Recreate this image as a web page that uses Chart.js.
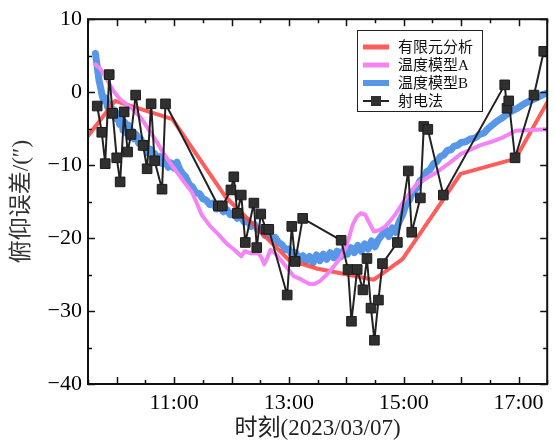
<!DOCTYPE html>
<html>
<head>
<meta charset="utf-8">
<script src="https://cdn.jsdelivr.net/npm/chart.js@4.4.0/dist/chart.umd.min.js"></script>
<style>
  html, body { margin: 0; padding: 0; background: #fff; }
</style>
</head>
<body>
<canvas id="grafik" width="555" height="444"></canvas>
<script>
// Zaman ekseni: saat (ondalik), ör. 10.5 = 10:30
const xEtiketSaatleri = [11, 13, 15, 17];
const xEtiketleri = ['11:00', '13:00', '15:00', '17:00'];
const yEtiketDegerleri = [-40, -30, -20, -10, 0, 10];

// 有限元分析
const feaX = [9.50, 9.97, 10.97, 11.89, 13.00, 13.50, 14.48, 14.98, 15.70, 15.99, 16.95, 17.50];
const feaY = [-6.0, -1.2, -3.7, -14.3, -23.0, -24.2, -25.7, -22.9, -14.6, -11.2, -9.1, -1.4];

// 温度模型A
const modelAX = [9.63, 9.70, 9.77, 9.86, 9.95, 10.06, 10.18, 10.29, 10.43, 10.57, 10.69, 10.80, 10.94, 11.09,
  11.20, 11.31, 11.40, 11.48, 11.62, 11.77, 11.92, 12.05, 12.17, 12.23, 12.34, 12.45, 12.52, 12.57, 12.63,
  12.68, 12.76, 12.85, 12.96, 13.08, 13.22, 13.36, 13.45, 13.54, 13.65, 13.76, 13.88, 13.99, 14.06, 14.11,
  14.18, 14.25, 14.33, 14.40, 14.48, 14.58, 14.68, 14.77, 14.85, 15.04, 15.24, 15.42, 15.59, 15.80, 15.99,
  16.16, 16.33, 16.53, 16.73, 16.95, 17.20, 17.50];
const modelAY = [3.8, 3.3, 2.6, 1.3, 0.1, -1.0, -1.7, -2.4, -3.6, -5.3, -6.7, -8.2, -9.8, -11.4,
  -12.6, -13.7, -15.3, -16.8, -18.3, -19.5, -20.8, -21.6, -22.5, -21.8, -22.1, -22.0, -22.6, -23.6, -22.6,
  -21.6, -22.1, -22.9, -24.0, -25.2, -25.7, -26.3, -26.3, -25.9, -25.1, -24.1, -22.9, -21.4, -19.6, -18.2,
  -17.1, -16.6, -16.8, -17.9, -19.1, -18.9, -18.4, -17.6, -16.8, -14.5, -12.5, -11.7, -10.9, -9.7, -8.5,
  -7.9, -7.3, -6.8, -6.2, -5.3, -5.2, -5.1];

// 温度模型B
const modelBX = [9.63, 9.66, 9.69, 9.72, 9.75, 9.78, 9.81, 9.84, 9.88, 9.91, 9.95, 9.98, 10.01, 10.05,
  10.08, 10.11, 10.14, 10.17, 10.20, 10.24, 10.27, 10.30, 10.34, 10.38, 10.42, 10.46, 10.50, 10.54, 10.58,
  10.62, 10.66, 10.70, 10.75, 10.80, 10.85, 10.90, 10.95, 11.00, 11.05, 11.10, 11.15, 11.20, 11.26, 11.32,
  11.38, 11.44, 11.50, 11.56, 11.62, 11.68, 11.74, 11.80, 11.86, 11.92, 11.98, 12.04, 12.10, 12.16, 12.22,
  12.28, 12.34, 12.40, 12.46, 12.52, 12.58, 12.64, 12.70, 12.76, 12.82, 12.88, 12.94, 13.00, 13.06, 13.12,
  13.18, 13.24, 13.30, 13.36, 13.42, 13.48, 13.54, 13.60, 13.66, 13.72, 13.78, 13.84, 13.90, 13.96, 14.02,
  14.08, 14.14, 14.20, 14.26, 14.32, 14.38, 14.44, 14.50, 14.56, 14.62, 14.68, 14.74, 14.80, 14.86, 14.92,
  14.98, 15.04, 15.10, 15.16, 15.22, 15.28, 15.34, 15.40, 15.46, 15.52, 15.58, 15.64, 15.70, 15.76, 15.82,
  15.88, 15.94, 16.00, 16.08, 16.16, 16.24, 16.32, 16.40, 16.48, 16.56, 16.64, 16.72, 16.80, 16.88, 16.96,
  17.04, 17.12, 17.20, 17.28, 17.36, 17.44, 17.50];
const modelBY = [5.3, 3.5, 1.7, 0.6, -0.6, -1.2, -0.8, -2.0, -1.6, -2.8, -2.4, -3.6, -2.9, -4.4,
  -3.6, -5.2, -4.1, -5.6, -4.5, -6.2, -5.3, -6.4, -5.8, -7.0, -6.4, -7.6, -7.0, -8.3, -7.8,
  -8.9, -8.4, -9.3, -8.8, -9.8, -9.4, -10.3, -9.7, -10.4, -9.6, -10.6, -11.2, -11.6, -12.6, -13.0,
  -13.8, -13.9, -14.6, -14.8, -15.4, -15.2, -16.0, -15.7, -16.4, -16.1, -16.8, -16.6, -17.3, -17.0, -17.8,
  -17.6, -18.4, -18.1, -18.9, -18.8, -19.6, -19.3, -20.1, -19.9, -20.6, -20.9, -21.6, -21.5, -22.4, -22.0,
  -23.0, -22.4, -23.2, -22.5, -23.4, -22.3, -23.1, -22.2, -22.9, -22.0, -22.7, -21.8, -22.6, -21.6, -22.2,
  -21.3, -22.0, -21.0, -21.8, -20.8, -21.5, -20.4, -21.2, -20.2, -19.6, -18.8, -19.8, -18.6, -19.2, -17.8,
  -16.8, -15.4, -14.8, -13.6, -13.2, -12.2, -11.8, -10.9, -10.6, -9.8, -9.5, -8.8, -8.6, -8.0, -7.9,
  -7.4, -7.3, -6.9, -6.8, -6.4, -6.3, -5.8, -5.6, -4.9, -4.4, -3.9, -3.5, -3.0, -2.6, -2.3,
  -1.9, -1.5, -1.2, -0.9, -0.6, -0.3, -0.1];

// 射电法
const radioX = [9.66, 9.74, 9.80, 9.87, 9.93, 10.00, 10.06, 10.13, 10.19, 10.25, 10.33, 10.46, 10.53, 10.60,
  10.66, 10.79, 10.85, 11.77, 11.84, 11.99, 12.04, 12.10, 12.17, 12.24, 12.39, 12.44, 12.51, 12.60, 12.65,
  12.97, 13.05, 13.11, 13.24, 13.91, 14.03, 14.09, 14.19, 14.29, 14.36, 14.43, 14.49, 14.56, 14.63, 14.89,
  15.08, 15.14, 15.29, 15.35, 15.42, 15.69, 16.76, 16.80, 16.83, 16.94, 17.27, 17.44];
const radioY = [-1.9, -5.5, -9.8, 2.4, -2.9, -9.0, -12.3, -2.7, -8.2, -5.8, -0.4, -7.3, -10.5, -1.6,
  -9.4, -13.3, -1.6, -15.6, -15.6, -13.4, -11.6, -16.6, -14.1, -20.6, -15.2, -21.3, -16.7, -18.8, -18.8,
  -27.8, -18.4, -23.2, -17.3, -20.3, -24.3, -31.4, -24.3, -27.1, -22.8, -29.6, -34.0, -28.5, -23.5, -20.6,
  -10.8, -19.2, -14.5, -4.7, -5.1, -14.1, 1.0, -2.2, -1.2, -9.0, -0.4, 5.6];

const noktalar = (xs, ys) => xs.map((x, i) => ({ x: x, y: ys[i] }));

const yaziTipi = '"Liberation Serif", "Noto Sans CJK SC", serif';

const seriler = [
  { etiket: '有限元分析', renk: 'rgba(255, 70, 70, 0.88)', kalinlik: 5, nokta: false },
  { etiket: '温度模型A', renk: '#f384f3', kalinlik: 5, nokta: false },
  { etiket: '温度模型B', renk: 'rgba(70, 140, 230, 0.9)', kalinlik: 6, nokta: false },
  { etiket: '射电法', renk: '#222', kalinlik: 2, nokta: true }
];

// Eksen çerçevesi ve içe dönük tik çizgileri
const cerceveEklentisi = {
  id: 'cerceve',
  afterDatasetsDraw(chart) {
    const ctx = chart.ctx;
    const a = chart.chartArea;
    const xs = chart.scales.x, ys = chart.scales.y;
    ctx.save();
    ctx.strokeStyle = '#111';
    ctx.lineWidth = 1.5;
    ctx.beginPath();
    for (let t = 9.5; t <= 17.5; t += 0.5) {
      const px = Math.round(xs.getPixelForValue(t)) + 0.5;
      const boy = Number.isInteger(t) ? 7 : 4;
      ctx.moveTo(px, a.bottom); ctx.lineTo(px, a.bottom - boy);
      ctx.moveTo(px, a.top); ctx.lineTo(px, a.top + boy);
    }
    for (let v = -40; v <= 10; v += 5) {
      const py = Math.round(ys.getPixelForValue(v)) + 0.5;
      const boy = v % 10 === 0 ? 7 : 4;
      ctx.moveTo(a.left, py); ctx.lineTo(a.left + boy, py);
      ctx.moveTo(a.right, py); ctx.lineTo(a.right - boy, py);
    }
    ctx.stroke();
    ctx.lineWidth = 2;
    ctx.strokeRect(a.left, a.top, a.right - a.left, a.bottom - a.top);
    ctx.restore();
  }
};

// Grafik içi lejant (sağ üst)
const lejantEklentisi = {
  id: 'lejant',
  afterDraw(chart) {
    const ctx = chart.ctx;
    const kx = 357.5, ky = 30.5, kw = 125, kh = 81;
    ctx.save();
    ctx.fillStyle = '#fff';
    ctx.fillRect(kx, ky, kw, kh);
    ctx.strokeStyle = '#222';
    ctx.lineWidth = 1;
    ctx.strokeRect(kx, ky, kw, kh);
    ctx.font = '15px ' + yaziTipi;
    ctx.textBaseline = 'middle';
    seriler.forEach((s, i) => {
      const yy = 47 + i * 18;
      ctx.strokeStyle = s.renk;
      ctx.lineWidth = s.kalinlik;
      ctx.beginPath();
      ctx.moveTo(363, yy); ctx.lineTo(389, yy);
      ctx.stroke();
      if (s.nokta) {
        ctx.fillStyle = '#303030';
        ctx.fillRect(371, yy - 5, 10, 10);
      }
      ctx.fillStyle = '#111';
      ctx.fillText(s.etiket, 398, yy + 1);
    });
    ctx.restore();
  }
};

const ctx = document.getElementById('grafik').getContext('2d');

new Chart(ctx, {
  type: 'line',
  data: {
    datasets: [
      {
        label: seriler[0].etiket, data: noktalar(feaX, feaY),
        borderColor: seriler[0].renk, borderWidth: 4, pointRadius: 0, order: 3
      },
      {
        label: seriler[1].etiket, data: noktalar(modelAX, modelAY),
        borderColor: seriler[1].renk, borderWidth: 4, pointRadius: 0, order: 2
      },
      {
        label: seriler[2].etiket, data: noktalar(modelBX, modelBY),
        borderColor: seriler[2].renk, borderWidth: 7, pointRadius: 0, order: 4
      },
      {
        label: seriler[3].etiket, data: noktalar(radioX, radioY),
        borderColor: '#222', borderWidth: 2,
        pointStyle: 'rect', pointRadius: 6.8,
        pointBackgroundColor: '#303030', pointBorderColor: '#1c1c1c', pointBorderWidth: 1,
        order: 1
      }
    ]
  },
  options: {
    responsive: false,
    animation: false,
    devicePixelRatio: 1,
    layout: { padding: { left: 0, right: 2, top: 16, bottom: 0 } },
    elements: { line: { tension: 0, borderCapStyle: 'round', borderJoinStyle: 'round' } },
    plugins: { legend: { display: false }, tooltip: { enabled: false } },
    scales: {
      x: {
        type: 'linear', min: 9.5, max: 17.5,
        grid: { display: false, drawTicks: false },
        border: { display: false },
        afterBuildTicks: (scale) => { scale.ticks = xEtiketSaatleri.map(v => ({ value: v })); },
        afterFit: (scale) => { scale.height = 60; },
        ticks: {
          autoSkip: false, maxRotation: 0, padding: 6, color: '#000',
          font: { family: yaziTipi, size: 22 },
          callback: (v) => xEtiketleri[xEtiketSaatleri.indexOf(v)]
        },
        title: {
          display: true, text: '时刻(2023/03/07)', color: '#222',
          font: { family: yaziTipi, size: 23 }, padding: { top: 0, bottom: 1 }
        }
      },
      y: {
        type: 'linear', min: -40, max: 10,
        grid: { display: false, drawTicks: false },
        border: { display: false },
        afterBuildTicks: (scale) => { scale.ticks = yEtiketDegerleri.map(v => ({ value: v })); },
        afterFit: (scale) => { scale.width = 88; },
        ticks: {
          padding: 6, color: '#000',
          font: { family: yaziTipi, size: 22 },
          callback: (v) => (v < 0 ? '\u2212' + Math.abs(v) : String(v))
        },
        title: {
          display: true, text: '俯仰误差/(″)', color: '#333',
          font: { family: yaziTipi, size: 23 }, padding: { top: 8, bottom: 0 }
        }
      }
    }
  },
  plugins: [cerceveEklentisi, lejantEklentisi]
});
</script>
</body>
</html>
